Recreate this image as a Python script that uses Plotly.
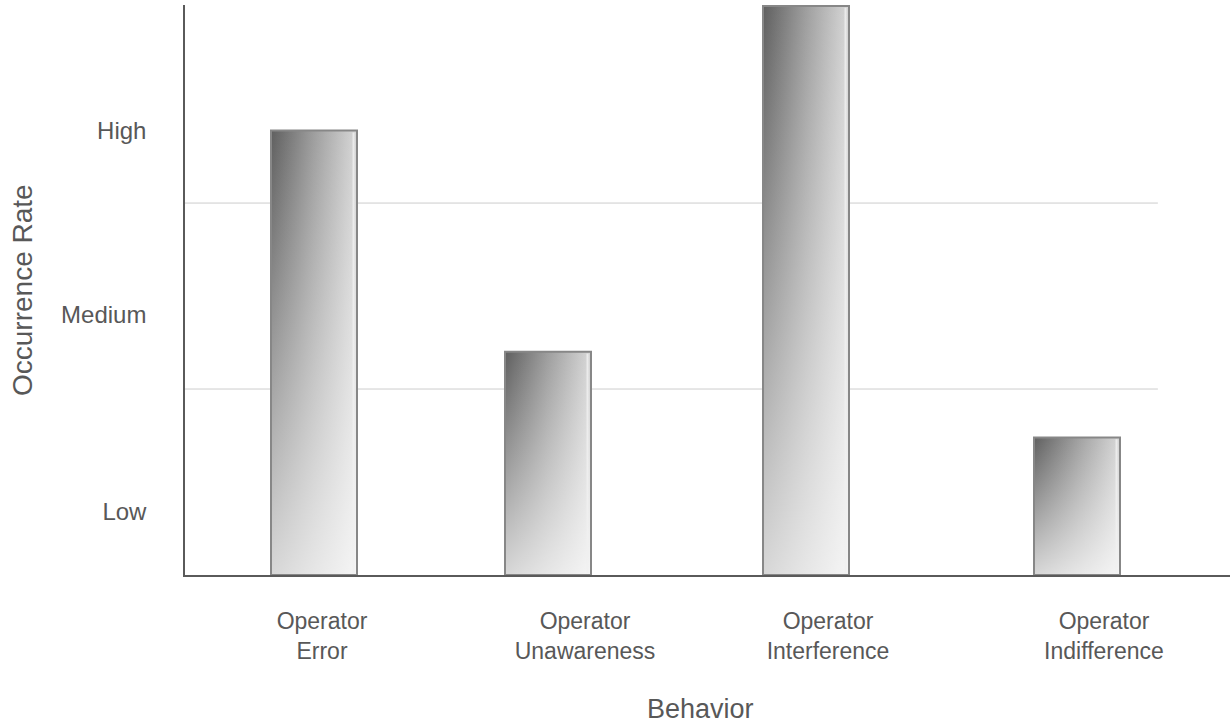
import plotly.graph_objects as go

# Behaviour categories and their occurrence rates (y units: 1 = one band)
behaviors = ["Operator<br>Error", "Operator<br>Unawareness",
             "Operator<br>Interference", "Operator<br>Indifference"]
occurrence = [2.39, 1.20, 3.06, 0.74]

# Qualitative rate labels on the y axis
rate_labels = ["Low", "Medium", "High"]
rate_label_pos = [0.34, 1.40, 2.39]

# Layout positions along the x axis (100 px per unit)
bar_pos = [1.29, 3.63, 6.21, 8.92]
label_pos = [1.37, 4.00, 6.43, 9.19]
bar_width = 0.86

TEXT = "rgb(88,88,88)"
FONT = "Liberation Sans, Arial, sans-serif"

fig = go.Figure()

# base bars
fig.add_trace(go.Bar(
    x=bar_pos, y=occurrence, width=bar_width,
    marker=dict(color="rgb(160,160,160)", line=dict(width=0)),
    hoverinfo="skip", showlegend=False,
))

# gradient shading on each bar: dark left -> light right, lightened toward the base
for c, v in zip(bar_pos, occurrence):
    x0, x1 = c - bar_width / 2, c + bar_width / 2
    xs = [x0, x1, x1, x0, x0]
    ys = [0, 0, v, v, 0]
    fig.add_trace(go.Scatter(
        x=xs, y=ys, mode="lines", fill="toself",
        line=dict(width=0),
        fillgradient=dict(type="horizontal", start=x0, stop=x1,
                          colorscale=[[0, "rgb(95,95,95)"], [0.5, "rgb(158,158,158)"],
                                      [1, "rgb(215,215,215)"]]),
        hoverinfo="skip", showlegend=False,
    ))
    fig.add_trace(go.Scatter(
        x=xs, y=ys, mode="lines", fill="toself",
        line=dict(width=2, color="rgb(135,135,135)"),
        fillgradient=dict(type="vertical", start=0, stop=v,
                          colorscale=[[0, "rgba(255,255,255,0.75)"],
                                      [1, "rgba(255,255,255,0)"]]),
        hoverinfo="skip", showlegend=False,
    ))
    # light inner strip along the right edge
    fig.add_trace(go.Scatter(
        x=[x1 - 0.035, x1 - 0.035], y=[0.01, v - 0.01], mode="lines",
        line=dict(width=2, color="rgba(240,240,240,0.8)"),
        hoverinfo="skip", showlegend=False,
    ))

# horizontal band separators
shapes = [
    dict(type="line", xref="paper", yref="y", x0=0, x1=0.931, y0=yv, y1=yv,
         line=dict(color="rgb(205,205,205)", width=1), layer="below")
    for yv in (1, 2)
]

fig.update_layout(
    width=1231, height=725,
    margin=dict(l=185, r=1, t=5, b=150),
    paper_bgcolor="white", plot_bgcolor="white",
    font=dict(family=FONT, color=TEXT),
    showlegend=False,
    bargap=0,
    shapes=shapes,
    xaxis=dict(
        range=[0, 10.45], showgrid=False, zeroline=False,
        showline=True, linecolor="rgb(90,90,90)", linewidth=1.5,
        tickvals=label_pos, ticktext=behaviors, ticks="",
        tickfont=dict(size=23, color=TEXT), ticklabelstandoff=25,
    ),
    yaxis=dict(
        range=[0, 3.065], showgrid=False, zeroline=False,
        showline=True, linecolor="rgb(90,90,90)", linewidth=1.5,
        tickvals=rate_label_pos, ticktext=rate_labels, ticks="",
        tickfont=dict(size=24, color=TEXT), ticklabelstandoff=32,
    ),
    annotations=[
        dict(text="Occurrence Rate", xref="paper", yref="paper",
             x=-0.156, y=0.5, xanchor="center", yanchor="middle",
             textangle=-90, showarrow=False,
             font=dict(size=28, color=TEXT, family=FONT)),
        dict(text="Behavior", xref="paper", yref="paper",
             x=0.493, y=-0.235, xanchor="center", yanchor="middle",
             showarrow=False, font=dict(size=27, color=TEXT, family=FONT)),
    ],
)

fig.write_html("out.html")
